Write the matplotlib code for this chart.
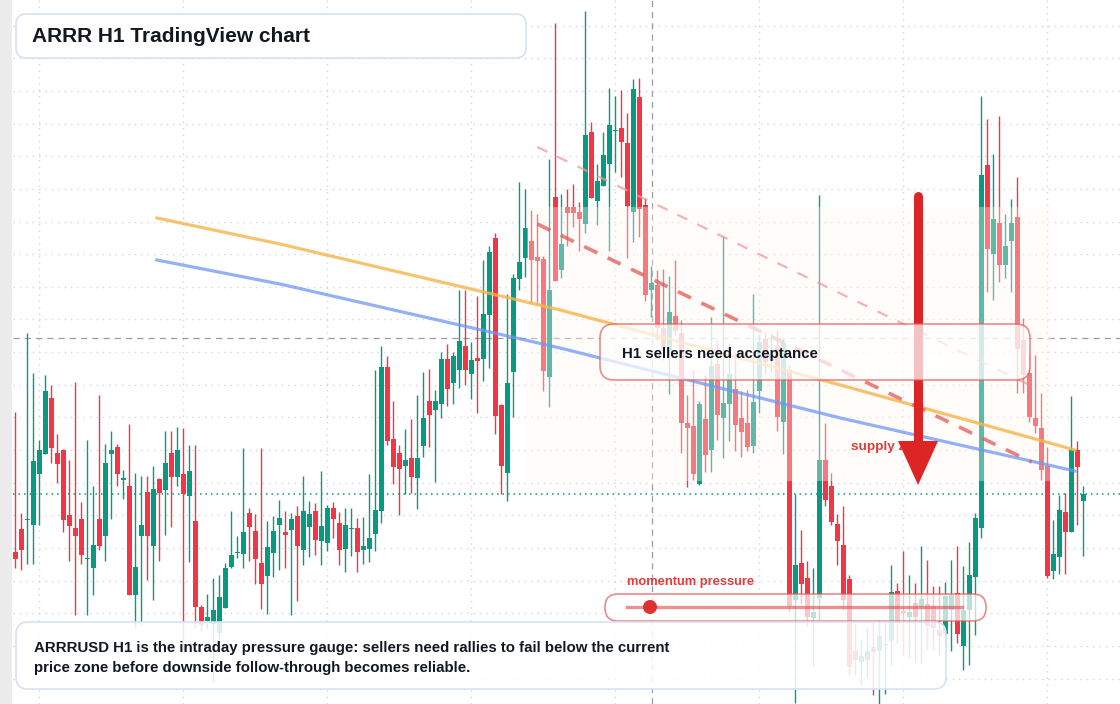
import numpy as np
import matplotlib
matplotlib.use("Agg")
import matplotlib.pyplot as plt
from matplotlib.patches import FancyBboxPatch, Rectangle, Circle
from matplotlib.transforms import IdentityTransform

plt.rcParams['font.family'] = ['Liberation Sans', 'DejaVu Sans']

o_raw = [552, 529, 520, 525, 474, 454, 398, 453, 450, 515, 528, 519, 559, 568, 519, 536, 454, 447, 480, 486,
         595, 536, 492, 546, 479, 490, 453, 477, 474, 496, 521, 607, 621, 624, 633, 608, 567, 553, 554, 513,
         531, 563, 576, 553, 525, 532, 530, 516, 550, 527, 511, 541, 543, 508, 523, 549, 529, 528, 550, 549,
         534, 511, 367, 439, 453, 466, 458, 478, 446, 401, 410, 404, 359, 383, 370, 346, 374, 358, 359, 315,
         238, 405, 473, 372, 279, 258, 241, 257, 259, 377, 197, 270, 207, 207, 212, 224, 132, 201, 186, 164,
         131, 128, 143, 212, 97, 205, 290, 285, 328, 352, 316, 333, 423, 426, 484, 419, 450, 364, 418, 404,
         389, 418, 423, 446, 391, 339, 360, 346, 422, 370, 600, 563, 578, 618, 598, 460, 486, 524, 545, 579,
         651, 662, 660, 647, 651, 645, 641, 591, 611, 617, 603, 607, 604, 606, 630, 634, 610, 593, 646, 610,
         577, 528, 165, 254, 223, 265, 241, 217, 340, 373, 418, 428, 466, 571, 557, 512, 532, 450, 501]
h_raw = [412, 513, 333, 373, 440, 375, 385, 434, 449, 460, 382, 502, 440, 486, 395, 444, 431, 444, 470, 424,
         473, 476, 476, 466, 478, 431, 431, 427, 428, 445, 445, 605, 594, 578, 575, 563, 511, 536, 448, 508,
         514, 448, 521, 516, 500, 511, 513, 506, 476, 501, 503, 471, 505, 502, 512, 508, 508, 518, 517, 474,
         370, 346, 356, 401, 445, 429, 419, 395, 372, 369, 390, 352, 344, 352, 290, 290, 342, 296, 260, 246,
         233, 404, 294, 274, 182, 189, 210, 214, 256, 159, 23, 194, 189, 184, 202, 11, 122, 164, 132, 88,
         96, 90, 113, 79, 78, 198, 266, 270, 269, 276, 260, 320, 395, 370, 401, 375, 317, 340, 236, 343,
         353, 391, 390, 294, 334, 332, 334, 330, 339, 365, 494, 530, 561, 568, 195, 423, 473, 514, 506, 575,
         623, 640, 628, 622, 620, 622, 565, 583, 551, 575, 583, 546, 560, 586, 586, 582, 560, 546, 566, 542,
         513, 96, 119, 154, 116, 214, 199, 177, 318, 354, 355, 393, 447, 520, 495, 493, 396, 441, 486]
l_raw = [568, 570, 564, 564, 525, 454, 463, 483, 532, 561, 615, 564, 615, 595, 550, 561, 519, 486, 499, 595,
         628, 625, 580, 600, 561, 535, 527, 486, 650, 562, 628, 632, 629, 682, 640, 608, 568, 558, 568, 561,
         584, 609, 614, 577, 570, 568, 615, 601, 565, 557, 555, 565, 551, 538, 565, 572, 556, 572, 564, 562,
         551, 523, 445, 484, 515, 494, 493, 509, 457, 447, 482, 418, 406, 404, 388, 385, 399, 413, 381, 368,
         434, 494, 501, 417, 290, 277, 303, 304, 391, 407, 281, 278, 246, 227, 251, 233, 198, 225, 186, 251,
         172, 177, 258, 242, 237, 301, 317, 340, 360, 394, 335, 453, 487, 480, 485, 472, 472, 440, 458, 441,
         451, 457, 451, 453, 413, 374, 372, 431, 454, 612, 703, 604, 626, 666, 620, 506, 525, 565, 610, 675,
         675, 685, 678, 695, 704, 694, 665, 643, 655, 658, 662, 664, 649, 650, 655, 646, 651, 643, 670, 665,
         635, 538, 292, 300, 282, 278, 292, 393, 393, 422, 433, 480, 578, 579, 574, 574, 532, 525, 556]
c_raw = [559, 550, 519, 461, 450, 391, 448, 464, 520, 526, 536, 555, 558, 545, 546, 463, 450, 474, 478, 595,
         567, 525, 536, 489, 493, 463, 477, 450, 494, 471, 607, 625, 617, 610, 597, 568, 555, 552, 532, 527,
         559, 584, 547, 531, 518, 535, 519, 546, 511, 514, 540, 526, 508, 519, 550, 525, 528, 552, 546, 538,
         510, 367, 441, 467, 469, 460, 477, 458, 418, 415, 401, 359, 389, 356, 341, 370, 360, 361, 314, 252,
         416, 466, 383, 278, 262, 228, 260, 261, 371, 290, 281, 244, 213, 213, 219, 135, 198, 181, 155, 125,
         130, 142, 206, 89, 209, 295, 283, 328, 348, 312, 331, 423, 428, 474, 404, 455, 366, 415, 403, 374,
         425, 432, 447, 402, 342, 362, 354, 417, 343, 606, 565, 584, 617, 612, 460, 500, 522, 541, 600, 667,
         660, 656, 651, 652, 636, 644, 592, 623, 613, 612, 617, 599, 626, 628, 636, 596, 595, 634, 610, 575,
         518, 175, 249, 219, 265, 246, 223, 349, 375, 417, 426, 470, 576, 554, 510, 532, 450, 467, 494]

# moving averages (candle index, screen reading)
ma_fast_x = [23.6, 44.1, 90.8, 137.5, 176.6]
ma_fast_y = [218, 244, 310, 385, 450]
ma_slow_x = [23.6, 44.1, 90.8, 137.5, 176.6]
ma_slow_y = [260, 284, 348, 418, 471]

# drawn objects
trend_x = [87.0, 169.4]
trend_main_y = [224, 462]
trend_upper_y = [147, 386]
zone_x = [85.3, 172.8]
zone_y = [207, 481]
cross_x = 106.1
cross_y = 338
arrow_x = 150.45
arrow_y = [196, 485]

P_TOP = 0.2400
STEP = 0.0001


def to_price(v):
    return P_TOP - np.asarray(v, dtype=float) * STEP


opn, high, low, close = map(to_price, (o_raw, h_raw, l_raw, c_raw))
idx = np.arange(len(opn))

GREEN = '#089981'
RED = '#f23645'
INK = '#131722'
W, H = 1120, 704

fig = plt.figure(figsize=(W / 100, H / 100), dpi=100)
fig.patch.set_facecolor('white')
fig.add_artist(Rectangle((0, 0), 12, H, transform=IdentityTransform(), facecolor='#ececec', edgecolor='none'))
ax = fig.add_axes([13 / W, 0, (W - 13) / W, 1])
ax.set_xlim(-0.38, 184.1)
ax.set_ylim(to_price(704), to_price(0))
for s in ax.spines.values():
    s.set_visible(False)

ax.set_xticks(4 + 24 * np.arange(8))
ax.set_yticks(to_price(25.6 + 32.65 * np.arange(21)))
ax.tick_params(length=0, labelbottom=False, labelleft=False)
ax.grid(True, color='#d3d6dc', linestyle=(0, (1.0, 3.6)), linewidth=1.0)
ax.set_axisbelow(True)

# crosshair + last price
ax.axvline(cross_x, color='#9a9ca3', linestyle=(0, (5, 4)), linewidth=0.9, zorder=1)
ax.axhline(to_price(cross_y), color='#9a9ca3', linestyle=(0, (5, 4)), linewidth=0.9, zorder=1)
ax.axhline(close[-1], color=GREEN, linestyle=(0, (1, 2.6)), linewidth=1.1, zorder=1)

# candles
up = close >= opn
cols = np.where(up, GREEN, RED)
body_lo = np.minimum(opn, close)
body_h = np.maximum(np.abs(close - opn), 1.2 * STEP)
ax.vlines(idx, low, high, colors=cols, linewidth=1.0, zorder=3)
ax.bar(idx, body_h, bottom=body_lo, width=0.78, color=cols, linewidth=0, zorder=3.1)

# supply zone
ax.add_patch(Rectangle((zone_x[0], to_price(zone_y[1])), zone_x[1] - zone_x[0],
                       to_price(zone_y[0]) - to_price(zone_y[1]),
                       facecolor=(1.0, 0.97, 0.94), alpha=0.35, edgecolor='none', zorder=3.5))

# moving averages and trend lines
ax.plot(ma_fast_x, to_price(ma_fast_y), color='#f7b44a', alpha=0.8, linewidth=2.3, zorder=4)
ax.plot(ma_slow_x, to_price(ma_slow_y), color='#7097f3', alpha=0.75, linewidth=2.3, zorder=4)
ax.plot(trend_x, to_price(trend_upper_y), color='#f29a9a', alpha=0.75, linewidth=1.6,
        linestyle=(0, (5, 5)), zorder=4)
ax.plot(trend_x, to_price(trend_main_y), color='#e45656', alpha=0.75, linewidth=2.6,
        linestyle=(0, (4, 3.2)), zorder=4)

# supply label + arrow
ax.text(139.3, to_price(447), 'supply zone', color='#e23b3b', fontsize=9.7, fontweight='bold',
        va='center', ha='left', zorder=5)
ax.plot([arrow_x, arrow_x], to_price([arrow_y[0], arrow_y[1] - 42]), color='#dc2626',
        linewidth=6.5, solid_capstyle='round', zorder=6)
hx = 3.33
ax.fill([arrow_x - hx, arrow_x + hx, arrow_x], to_price([arrow_y[1] - 44, arrow_y[1] - 44, arrow_y[1]]),
        color='#dc2626', linewidth=0, zorder=6)


def rbox(x0, y0, x1, y1, r, fc, ec, lw=1.2, z=10):
    p = FancyBboxPatch((x0, H - y1), x1 - x0, y1 - y0, boxstyle=f"round,pad=0,rounding_size={r}",
                       transform=IdentityTransform(), facecolor=fc, edgecolor=ec, linewidth=lw, zorder=z)
    fig.add_artist(p)


def ftext(x, y, s, **kw):
    fig.text(x / W, 1 - y / H, s, va='center', ha='left', zorder=12, **kw)


# title
rbox(16, 14, 526, 58, 10, (1, 1, 1, 1), '#d5e2f3')
ftext(32, 36, 'ARRR H1 TradingView chart', fontsize=15, fontweight='bold', color=INK)

# acceptance box
rbox(600, 324, 1030, 380, 14, (1, 1, 1, 0.72), (0.90, 0.35, 0.35, 0.7))
ftext(622, 354, 'H1 sellers need acceptance', fontsize=10.8, fontweight='bold', color=INK)

# momentum pill
ftext(627, 582, 'momentum pressure', fontsize=9.3, fontweight='bold', color='#e23b3b')
rbox(605, 594, 986, 621, 13, (1, 1, 1, 0.72), (0.90, 0.35, 0.35, 0.7))
fig.add_artist(plt.Line2D([627, 962], [H - 607, H - 607], transform=IdentityTransform(),
                          color='#e04848', alpha=0.6, linewidth=2.4, zorder=11))
fig.add_artist(Circle((650, H - 607), 7, transform=IdentityTransform(), facecolor='#e03131',
                      edgecolor='none', zorder=11))

# note box
rbox(16, 622, 946, 689, 12, (1, 1, 1, 0.86), '#d5e2f3')
ftext(34, 648, 'ARRRUSD H1 is the intraday pressure gauge: sellers need rallies to fail below the current',
      fontsize=10.8, fontweight='bold', color=INK)
ftext(34, 668, 'price zone before downside follow-through becomes reliable.',
      fontsize=10.8, fontweight='bold', color=INK)

fig.savefig('out.png', dpi=100)
